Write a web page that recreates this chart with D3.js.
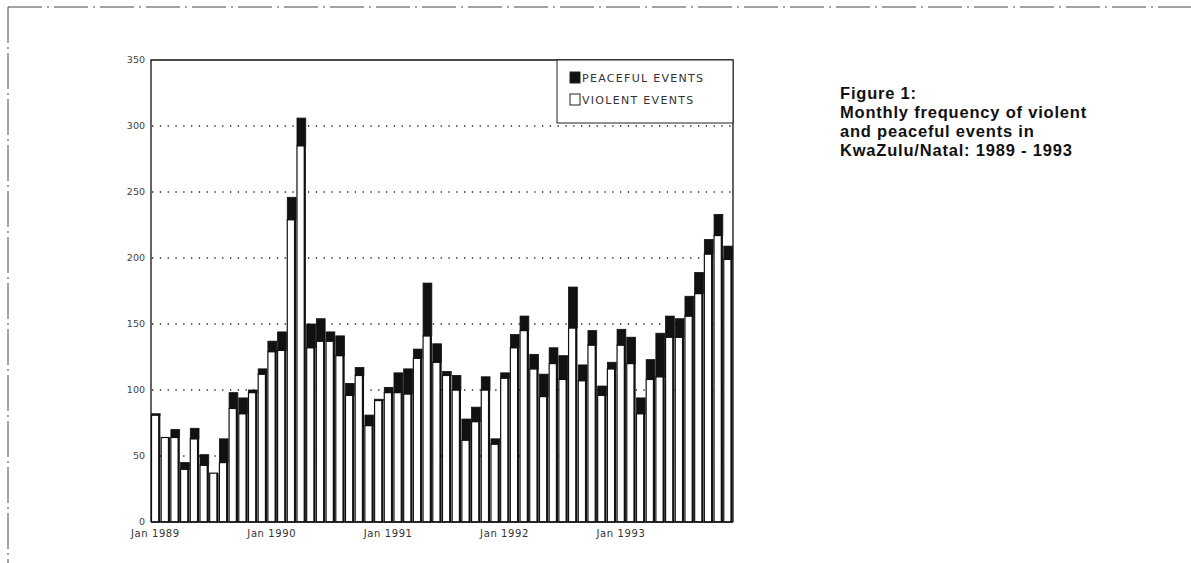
<!DOCTYPE html>
<html>
<head>
<meta charset="utf-8">
<script src="https://cdn.jsdelivr.net/npm/d3@7"></script>
<style>
  html, body { margin: 0; padding: 0; background: #fff; }
  svg { display: block; }
</style>
</head>
<body>
<svg id="chart" width="1191" height="563"></svg>
<script>
// monthly event counts, KwaZulu/Natal, Jan 1989 - Dec 1993
const years = [1989, 1990, 1991, 1992, 1993];
const monthNames = ["Jan", "Feb", "Mar", "Apr", "May", "Jun", "Jul", "Aug", "Sep", "Oct", "Nov", "Dec"];

const violent = [
	81, 64, 64, 40, 63, 43, 37, 45, 86, 82, 98, 112,
	129, 130, 229, 285, 132, 137, 137, 126, 96, 111, 73, 92,
	98, 98, 97, 124, 141, 121, 111, 100, 62, 76, 100, 59,
	109, 132, 145, 116, 95, 120, 108, 147, 107, 134, 96, 116,
	134, 120, 82, 108, 110, 140, 140, 156, 173, 203, 217, 199
];
const peaceful = [
	1, 0, 6, 5, 8, 8, 0, 18, 12, 12, 2, 4,
	8, 14, 17, 21, 18, 17, 7, 15, 9, 6, 8, 1,
	4, 15, 19, 7, 40, 14, 3, 11, 16, 11, 10, 4,
	4, 10, 11, 11, 17, 12, 18, 31, 12, 11, 7, 5,
	12, 20, 12, 15, 33, 16, 14, 15, 16, 11, 16, 10
];

const yTicks = [0, 50, 100, 150, 200, 250, 300, 350];
const xTickLabels = ["Jan 1989", "Jan 1990", "Jan 1991", "Jan 1992", "Jan 1993"];
const legendLabels = ["PEACEFUL EVENTS", "VIOLENT EVENTS"];
const titleLines = ["Figure 1:", "Monthly frequency of violent", "and peaceful events in", "KwaZulu/Natal: 1989 - 1993"];

const months = years.flatMap(y => monthNames.map(m => `${m} ${y}`));
const data = months.map((m, i) => ({ month: m, violent: violent[i], peaceful: peaceful[i] }));

const svg = d3.select("#chart");

// scanned page frame
svg.append("line")
	.attr("x1", 8).attr("x2", 1191).attr("y1", 7).attr("y2", 7)
	.attr("stroke", "#444").attr("stroke-width", 1)
	.attr("stroke-dasharray", "34,5,2,5");
svg.append("line")
	.attr("x1", 8).attr("x2", 8).attr("y1", 7).attr("y2", 563)
	.attr("stroke", "#444").attr("stroke-width", 1)
	.attr("stroke-dasharray", "36,4,2,4");

// scales
const x = d3.scaleBand()
	.domain(months)
	.range([151, 732])
	.paddingInner(0.2)
	.paddingOuter(0.05);

const y = d3.scaleLinear()
	.domain([0, 350])
	.range([522, 60]);

const plot = svg.append("g");

// dotted gridlines
plot.append("g")
	.selectAll("line")
	.data(yTicks.filter(d => d > 0 && d < 350))
	.join("line")
		.attr("x1", 152).attr("x2", 731)
		.attr("y1", d => y(d)).attr("y2", d => y(d))
		.attr("stroke", "#222")
		.attr("stroke-width", 1.3)
		.attr("stroke-dasharray", "1.3,6.5");

// y axis labels
plot.append("g")
	.selectAll("text")
	.data(yTicks)
	.join("text")
		.attr("x", 145)
		.attr("y", d => y(d))
		.attr("dy", "0.35em")
		.attr("text-anchor", "end")
		.style("font", "9.5px 'DejaVu Sans', sans-serif")
		.style("fill", "#444")
		.text(d => d);

// stacked bars
const stack = d3.stack().keys(["violent", "peaceful"])(data);

plot.append("g")
	.selectAll("rect")
	.data(stack[0])
	.join("rect")
		.attr("x", d => x(d.data.month))
		.attr("y", d => y(d[1]))
		.attr("width", x.bandwidth())
		.attr("height", d => y(d[0]) - y(d[1]))
		.attr("fill", "#fff")
		.attr("stroke", "#111")
		.attr("stroke-width", 1.2);

// heavy right edge of each bar (print shadow)
plot.append("g")
	.selectAll("line")
	.data(stack[0])
	.join("line")
		.attr("x1", d => x(d.data.month) + x.bandwidth())
		.attr("x2", d => x(d.data.month) + x.bandwidth())
		.attr("y1", d => y(d[1]))
		.attr("y2", y(0))
		.attr("stroke", "#111")
		.attr("stroke-width", 2.2);

plot.append("g")
	.selectAll("rect")
	.data(stack[1].filter(d => d[1] > d[0]))
	.join("rect")
		.attr("x", d => x(d.data.month))
		.attr("y", d => y(d[1]))
		.attr("width", x.bandwidth() + 1)
		.attr("height", d => y(d[0]) - y(d[1]))
		.attr("fill", "#111")
		.attr("stroke", "#111")
		.attr("stroke-width", 0.8);

// frame: left axis, top line, right edge, baseline
plot.append("path")
	.attr("d", `M${151},${y(0)}V${y(350)}H${733}V${y(0)}`)
	.attr("fill", "none")
	.attr("stroke", "#111")
	.attr("stroke-width", 1.3);
plot.append("line")
	.attr("x1", 151).attr("x2", 733)
	.attr("y1", y(0)).attr("y2", y(0))
	.attr("stroke", "#111").attr("stroke-width", 1.6);

// x labels at each January
plot.append("g")
	.selectAll("text")
	.data(xTickLabels)
	.join("text")
		.attr("x", d => x(d) + x.bandwidth() / 2)
		.attr("y", 537)
		.attr("text-anchor", "middle")
		.style("font", "10px 'DejaVu Sans', sans-serif")
		.style("letter-spacing", "0.6px")
		.style("fill", "#333")
		.text(d => d);

// legend
const legend = svg.append("g");
legend.append("rect")
	.attr("x", 557).attr("y", 60)
	.attr("width", 176).attr("height", 63)
	.attr("fill", "#fff")
	.attr("stroke", "#222")
	.attr("stroke-width", 1);

legend.selectAll("g")
	.data(legendLabels)
	.join("g")
		.attr("transform", (d, i) => `translate(570,${72 + i * 22})`)
		.call(g => g.append("rect")
				.attr("width", 10).attr("height", 11)
				.attr("fill", (d, i) => i === 0 ? "#111" : "#fff")
				.attr("stroke", "#222")
				.attr("stroke-width", 1))
		.call(g => g.append("text")
				.attr("x", 12)
				.attr("y", 10)
				.style("font", "11px 'DejaVu Sans', sans-serif")
				.style("letter-spacing", "1.3px")
				.style("fill", "#333")
				.text(d => d));

// title
svg.append("g")
	.selectAll("text")
	.data(titleLines)
	.join("text")
		.attr("x", 840)
		.attr("y", (d, i) => 99 + i * 19)
		.style("font", "bold 16.5px 'Liberation Sans', Arial, sans-serif")
		.style("letter-spacing", "0.8px")
		.style("fill", "#111")
		.text(d => d);
</script>
</body>
</html>
